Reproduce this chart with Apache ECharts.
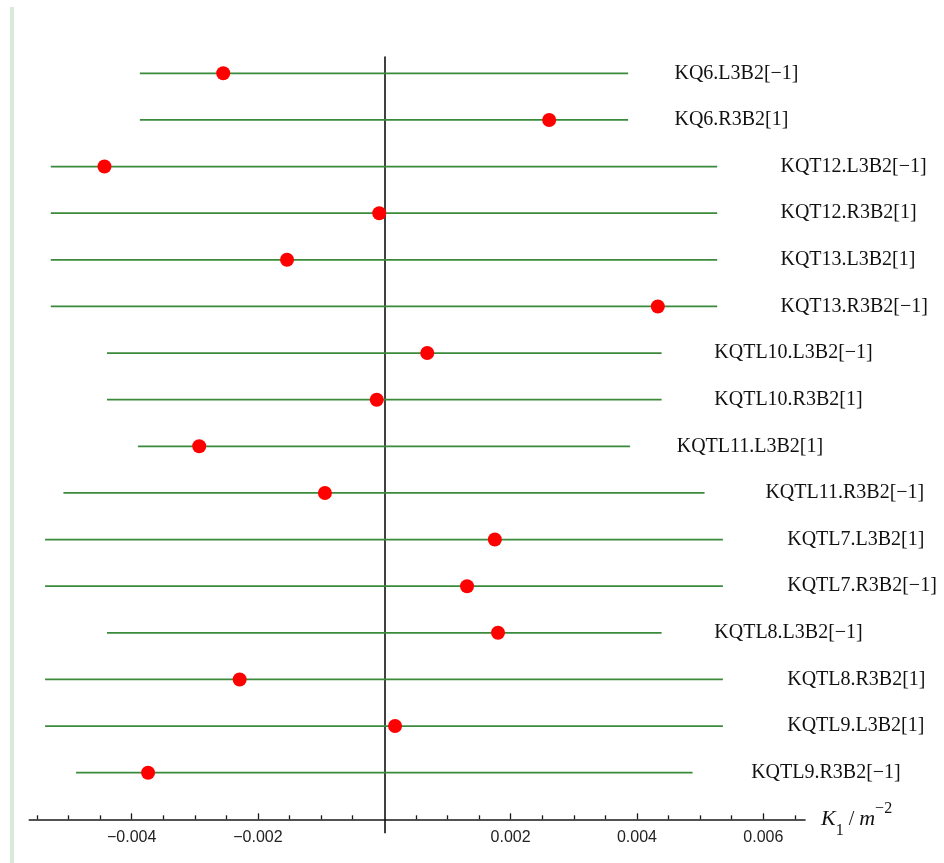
<!DOCTYPE html>
<html>
<head>
<meta charset="utf-8">
<script src="https://cdn.jsdelivr.net/npm/echarts@6/dist/echarts.min.js"></script>
<style>
  html, body { margin: 0; padding: 0; background: #ffffff; }
  #chart { width: 944px; height: 863px; }
</style>
</head>
<body>
<div id="chart"></div>
<script>
// Corrector names, top to bottom
const names = [
  'KQ6.L3B2[\u22121]', 'KQ6.R3B2[1]',
  'KQT12.L3B2[\u22121]', 'KQT12.R3B2[1]',
  'KQT13.L3B2[1]', 'KQT13.R3B2[\u22121]',
  'KQTL10.L3B2[\u22121]', 'KQTL10.R3B2[1]',
  'KQTL11.L3B2[1]', 'KQTL11.R3B2[\u22121]',
  'KQTL7.L3B2[1]', 'KQTL7.R3B2[\u22121]',
  'KQTL8.L3B2[\u22121]', 'KQTL8.R3B2[1]',
  'KQTL9.L3B2[1]', 'KQTL9.R3B2[\u22121]'
];
// Allowed range of K1 for each corrector (m^-2)
const lowerBound = [
  -0.00387, -0.00387, -0.00528, -0.00528, -0.00528, -0.00528,
  -0.00439, -0.00439, -0.00390, -0.00508, -0.00537, -0.00537,
  -0.00439, -0.00537, -0.00537, -0.00488
];
const upperBound = [
  0.00386, 0.00386, 0.00527, 0.00527, 0.00527, 0.00527,
  0.00439, 0.00439, 0.00389, 0.00507, 0.00536, 0.00536,
  0.00439, 0.00536, 0.00536, 0.00488
];
// Fitted K1 values
const fitted = [
  -0.00255, 0.00261, -0.00443, -0.00008, -0.00154, 0.00433,
  0.00068, -0.00012, -0.00293, -0.00094, 0.00175, 0.00131,
  0.00180, -0.00229, 0.00017, -0.00374
];
// Axis ticks
const tickLabelValues = [-0.004, -0.002, 0.002, 0.004, 0.006];
const majorTickValues = [-0.004, -0.002, 0.002, 0.004, 0.006];
const minorTickValues = [
  -0.0055, -0.005, -0.0045, -0.0035, -0.003, -0.0025, -0.0015, -0.001, -0.0005,
  0.0005, 0.001, 0.0015, 0.0025, 0.003, 0.0035, 0.0045, 0.005, 0.0055, 0.0065
];
const originTickValues = [0];

const X_MIN = -0.00562, X_MAX = 0.00666;
const Y_MIN = 0, Y_MAX = 16.35;
const n = names.length;
const rowY = i => n - i;

const rangeData = names.map((_, i) => [lowerBound[i], upperBound[i], rowY(i)]);
const pointData = names.map((_, i) => [fitted[i], rowY(i)]);
const labelData = names.map((nm, i) => [upperBound[i] * 1.19, rowY(i), nm]);

const chart = echarts.init(document.getElementById('chart'), null, { renderer: 'canvas' });

const serif = '"Liberation Serif", "Times New Roman", serif';
const sans = '"Liberation Sans", Arial, sans-serif';
const ink = '#1a1a1a';

// Helper for the extra tick-only x axes sharing the same scale
const tickOnlyAxis = (values, length, inside) => ({
  type: 'value',
  min: X_MIN, max: X_MAX,
  position: 'bottom',
  axisLine: { show: false },
  axisTick: { show: true, inside: inside, length: length, customValues: values,
    lineStyle: { color: ink, width: 1.3 } },
  axisLabel: { show: false },
  splitLine: { show: false }
});

chart.setOption({
  animation: false,
  backgroundColor: '#ffffff',
  graphic: [{
    type: 'rect',
    shape: { x: 10, y: 7, width: 4, height: 860 },
    style: { fill: '#d8ead8' },
    silent: true
  }],
  grid: { left: 29.3, width: 775.7, top: 57, height: 762.3 },
  xAxis: [{
    type: 'value',
    min: X_MIN, max: X_MAX,
    position: 'bottom',
    axisLine: { show: true, onZero: false, lineStyle: { color: ink, width: 1.6 } },
    axisTick: { show: true, inside: true, length: 6, customValues: majorTickValues,
      lineStyle: { color: ink, width: 1.3 } },
    axisLabel: { show: true, customValues: tickLabelValues, margin: 10,
      fontFamily: sans, fontSize: 16, color: '#222',
      formatter: v => (v < 0 ? '\u2212' : '') + Math.abs(v).toFixed(3) },
    splitLine: { show: false },
    name: '{k|K}{s|1}{n| / }{k|m}{p|\u22122}',
    nameLocation: 'end',
    nameGap: 16,
    nameTextStyle: {
      fontFamily: serif, fontSize: 20, color: '#111',
      rich: {
        k: { fontFamily: serif, fontStyle: 'italic', fontSize: 22, lineHeight: 38, color: '#111' },
        n: { fontFamily: serif, fontSize: 20, lineHeight: 38, color: '#111' },
        s: { fontFamily: serif, fontSize: 16, lineHeight: 16, verticalAlign: 'bottom', color: '#111' },
        p: { fontFamily: serif, fontSize: 16, lineHeight: 16, verticalAlign: 'top', color: '#111' }
      }
    }
  },
    tickOnlyAxis(minorTickValues, 4, true),
    // the vertical axis continues a little below the horizontal one
    { ...tickOnlyAxis(originTickValues, 14, false),
      axisTick: { show: true, inside: false, length: 14, customValues: originTickValues,
        lineStyle: { color: '#111', width: 1.6 } } }
  ],
  yAxis: {
    type: 'value',
    min: Y_MIN, max: Y_MAX,
    axisLine: { show: true, onZero: true, lineStyle: { color: '#111', width: 1.6 } },
    axisTick: { show: false },
    axisLabel: { show: false },
    splitLine: { show: false }
  },
  series: [{
    type: 'custom',
    name: 'range',
    xAxisIndex: 0,
    data: rangeData,
    encode: { x: [0, 1], y: 2 },
    renderItem: (params, api) => {
      const a = api.coord([api.value(0), api.value(2)]);
      const b = api.coord([api.value(1), api.value(2)]);
      return {
        type: 'line',
        shape: { x1: a[0], y1: a[1], x2: b[0], y2: b[1] },
        style: { stroke: '#3b8a3b', lineWidth: 1.7 }
      };
    },
    z: 2
  }, {
    type: 'scatter',
    name: 'fit',
    xAxisIndex: 0,
    data: pointData,
    symbol: 'circle',
    symbolSize: 14,
    itemStyle: { color: '#ff0000', opacity: 1 },
    z: 5
  }, {
    type: 'custom',
    name: 'labels',
    xAxisIndex: 0,
    data: labelData,
    encode: { x: 0, y: 1 },
    renderItem: (params, api) => {
      const p = api.coord([api.value(0), api.value(1)]);
      return {
        type: 'text',
        x: p[0], y: p[1],
        style: {
          text: labelData[params.dataIndex][2],
          fontFamily: serif, fontSize: 20, fill: '#111',
          align: 'left', verticalAlign: 'middle'
        }
      };
    },
    z: 4
  }]
});
</script>
</body>
</html>
